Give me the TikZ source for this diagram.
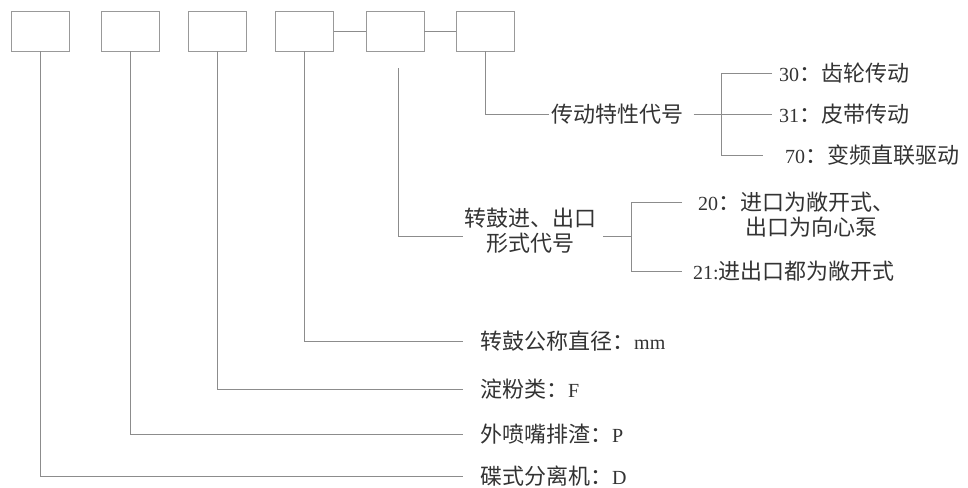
\documentclass[tikz,border=0pt]{standalone}
\usepackage{fontspec}
\setmainfont{Liberation Serif}
\newfontfamily\cjk{Noto Sans CJK SC}
\newcommand{\zh}[1]{{\cjk\fontsize{22}{25}\selectfont #1}}
\tikzstyle{box} = [rectangle, minimum width=58pt, minimum height=40pt, draw=black!40, line width=0.8pt]
\tikzstyle{link} = [draw=black!45, line width=0.7pt]
\tikzstyle{lbl} = [inner sep=2pt, text=black!80, font=\fontsize{20}{25}\selectfont]
\tikzstyle{item} = [lbl, anchor=west, inner xsep=17pt]

\begin{document}
\begin{tikzpicture}[x=1pt, y=-1pt]
\useasboundingbox (0,0) rectangle (968,487);

% Boxes
\node (B1) [box] at (40,31) {};
\node (B2) [box] at (130,31) {};
\node (B3) [box] at (217.5,31) {};
\node (B4) [box] at (304.5,31) {};
\node (B5) [box] at (395,31) {};
\node (B6) [box] at (485.5,31) {};
\coordinate (B5drop) at (398,68);

% Labels
\node (drive) [lbl] at (617.5,114) {\zh{传动特性代号}};
\node (d30) [lbl, anchor=west, inner xsep=7pt] at (772,73) {30\zh{：齿轮传动}};
\node (d31) [lbl, anchor=west, inner xsep=7pt] at (772,114) {31\zh{：皮带传动}};
\node (d70) [lbl, anchor=west, inner xsep=22pt] at (763,155) {70\zh{：变频直联驱动}};
\node (form) [lbl, align=center, inner xsep=1pt] at (530,231) {\zh{转鼓进、出口}\\\zh{形式代号}};
\node (d20) [lbl, anchor=west, align=left, inner xsep=16pt] at (682,214.5) {20\zh{：进口为敞开式、}\\\hspace*{47pt}\zh{出口为向心泵}};
\node (d21) [lbl, anchor=west, inner xsep=11pt] at (682,271) {21:\zh{进出口都为敞开式}};
\node (dia) [item] at (463,341) {\zh{转鼓公称直径：}mm};
\node (starch) [item] at (463,389) {\zh{淀粉类：}F};
\node (nozzle) [item] at (463,434) {\zh{外喷嘴排渣：}P};
\node (disc) [item] at (463,476) {\zh{碟式分离机：}D};

% Junctions
\coordinate (j1) at (721,114);
\coordinate (j2) at (631,236);

% Lines
\draw [link] (B4.east) -- (B5.west);
\draw [link] (B5.east) -- (B6.west);
\draw [link] (B6.south) |- (drive.west);
\draw [link] ([xshift=8pt]drive.east) -- (d31.west);
\draw [link] (d30.west) -| (j1) |- (d70.west);
\draw [link] (B5drop) |- ([yshift=-5pt]form.west);
\draw [link] ([yshift=-5pt, xshift=6pt]form.east) -- (j2);
\draw [link] ([yshift=12.5pt]d20.west) -| (j2) |- (d21.west);
\draw [link] (B4.south) |- (dia.west);
\draw [link] (B3.south) |- (starch.west);
\draw [link] (B2.south) |- (nozzle.west);
\draw [link] (B1.south) |- (disc.west);

\end{tikzpicture}
\end{document}
